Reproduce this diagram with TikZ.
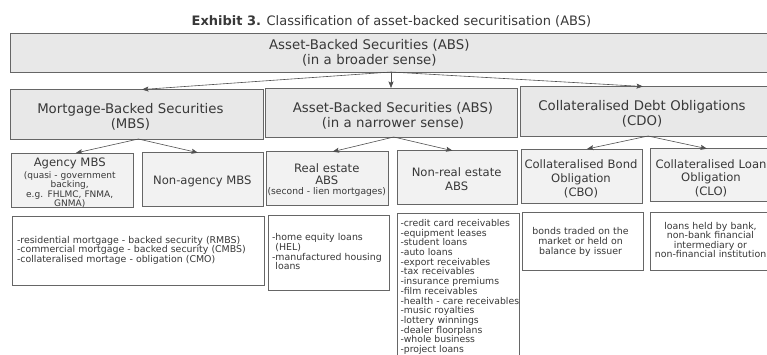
\documentclass[tikz,border=0pt]{standalone}
\usepackage{fontspec}
\setmainfont{DejaVu Sans}
\usetikzlibrary{arrows.meta}
\definecolor{bordc}{HTML}{666666}
\definecolor{arrc}{HTML}{505050}
\definecolor{fillA}{HTML}{E8E8E8}
\definecolor{fillB}{HTML}{F2F2F2}
\definecolor{txtc}{HTML}{383838}
\begin{document}
\begin{tikzpicture}[x=1pt,y=-1pt,
  box/.style={draw=bordc,line width=0.85pt,inner sep=0pt,outer sep=0pt},
  lvA/.style={box,fill=fillA},
  lvB/.style={box,fill=fillB},
  lvC/.style={box,fill=white},
  arr/.style={draw=arrc,line width=0.6pt,-{Stealth[length=6.5pt,width=5pt,inset=1.2pt]}},
  txt/.style={inner sep=0pt,outer sep=0pt,text=txtc,anchor=base},
  fbig/.style={font=\fontsize{13.3}{15}\selectfont},
  fmid/.style={font=\fontsize{11.6}{13.7}\selectfont},
  fsmall/.style={font=\fontsize{9}{8.3}\selectfont},
  fdet/.style={font=\fontsize{9.4}{9.6}\selectfont},
]
\useasboundingbox (0,0) rectangle (767,354);
\clip (0,0) rectangle (767,354);

% title
\node[txt,font=\fontsize{13}{14}\selectfont] (title) at (391.4,25) {\textbf{Exhibit 3.} Classification of asset-backed securitisation (ABS)};

% level 1 and 2
\node[lvA,minimum width=775pt,minimum height=39pt] (top) at (397.5,52.5) {};
\node[lvA,minimum width=253pt,minimum height=49.5pt] (mbs) at (137,114.25) {};
\node[lvA,minimum width=251.5pt,minimum height=49pt] (absn) at (391.25,112.5) {};
\node[lvA,minimum width=250pt,minimum height=49.5pt] (cdo) at (645,111.25) {};

% level 3
\node[lvB,minimum width=122pt,minimum height=54pt] (agency) at (72,180) {};
\node[lvB,minimum width=121pt,minimum height=53.3pt] (nonag) at (202.5,179.35) {};
\node[lvB,minimum width=121.5pt,minimum height=53.3pt] (reale) at (327.25,178.35) {};
\node[lvB,minimum width=120.5pt,minimum height=53.3pt] (nonre) at (457.25,177.35) {};
\node[lvB,minimum width=120.5pt,minimum height=54pt] (cbo) at (581.75,176) {};
\node[lvB,minimum width=122pt,minimum height=53pt] (clo) at (711,175.2) {};

% level 4
\node[lvC,minimum width=252.5pt,minimum height=69pt] (mbsd) at (138.25,250.5) {};
\node[lvC,minimum width=121pt,minimum height=75pt] (reald) at (328.5,252.5) {};
\node[lvC,minimum width=121.5pt,minimum height=157pt] (nonred) at (458.25,291.8) {};
\node[lvC,minimum width=121pt,minimum height=57.7pt] (cbod) at (582.5,241.15) {};
\node[lvC,minimum width=120.5pt,minimum height=57.7pt] (clod) at (710.75,241.15) {};

% connectors
\coordinate (topout) at (391,72);
\draw[arr] (topout) -- ([xshift=5pt]mbs.north);
\draw[arr] (topout) -- ([xshift=-0.25pt]absn.north);
\draw[arr] (topout) -- ([xshift=-2pt]cdo.north);
\draw[arr] ([xshift=1.4pt]mbs.south) -- ([xshift=3.8pt]agency.north);
\draw[arr] ([xshift=1.4pt]mbs.south) -- ([xshift=-4.5pt]nonag.north);
\draw[arr] ([xshift=2.5pt]absn.south) -- ([xshift=5.3pt]reale.north);
\draw[arr] ([xshift=2.5pt]absn.south) -- ([xshift=-4.7pt]nonre.north);
\draw[arr] ([xshift=3pt]cdo.south) -- ([xshift=5.2pt]cbo.north);
\draw[arr] ([xshift=3pt]cdo.south) -- ([xshift=-4pt]clo.north);

% texts level 1-2
\node[txt,fbig,text width=300pt,align=center] (topt) at (369.3,49) {Asset-Backed Securities (ABS)\\(in a broader sense)};
\node[txt,fbig,text width=240pt,align=center] (mbst) at (130.4,113.4) {Mortgage-Backed Securities\\(MBS)};
\node[txt,fbig,text width=240pt,align=center] (absnt) at (393,112.1) {Asset-Backed Securities (ABS)\\(in a narrower sense)};
\node[txt,fbig,text width=240pt,align=center] (cdot) at (642,110.1) {Collateralised Debt Obligations\\(CDO)};

% texts level 3
\node[txt,fmid] (agt1) at (69.7,166.5) {Agency MBS};
\node[txt,fsmall,text width=118pt,align=center] (agt2) at (69.7,178) {(quasi - government\\backing,\\e.g. FHLMC, FNMA,\\GNMA)};
\node[txt,fmid] (nonagt) at (202.3,184.5) {Non-agency MBS};
\node[txt,fmid] (realt1) at (326.8,172.8) {Real estate};
\node[txt,fmid] (realt2) at (326.8,184.5) {ABS};
\node[txt,font=\fontsize{9.2}{10}\selectfont] (realt3) at (326.8,194) {(second - lien mortgages)};
\node[txt,fmid,text width=150pt,align=center] (nonret) at (456.6,176.5) {Non-real estate\\ABS};
\node[txt,fmid,text width=150pt,align=center] (cbot) at (581,168.8) {Collateralised Bond\\Obligation\\(CBO)};
\node[txt,fmid,text width=150pt,align=center] (clot) at (711,168.1) {Collateralised Loan\\Obligation\\(CLO)};

% texts level 4
\node[txt,fdet,anchor=base west,text width=245pt,align=left] (mbsdt) at (17,243.1) {-residential mortgage - backed security (RMBS)\\-commercial mortgage - backed security (CMBS)\\-collateralised mortage - obligation (CMO)};
\node[txt,fdet,anchor=base west,text width=115pt,align=left] (realdt) at (272,240.8) {-home equity loans\\\phantom{-}(HEL)\\-manufactured housing\\\phantom{-}loans};
\node[txt,font=\fontsize{9.3}{9.7}\selectfont,anchor=base west,text width=125pt,align=left] (nonredt) at (400.5,226.4) {-credit card receivables\\-equipment leases\\-student loans\\-auto loans\\-export receivables\\-tax receivables\\-insurance premiums\\-film receivables\\-health - care receivables\\-music royalties\\-lottery winnings\\-dealer floorplans\\-whole business\\-project loans};
\node[txt,fdet,text width=130pt,align=center] (cbodt) at (580.5,234.8) {bonds traded on the\\market or held on\\balance by issuer};
\node[txt,fdet,text width=140pt,align=center] (clodt) at (710.5,229.1) {loans held by bank,\\non-bank financial\\intermediary or\\non-financial institution};
\end{tikzpicture}
\end{document}
